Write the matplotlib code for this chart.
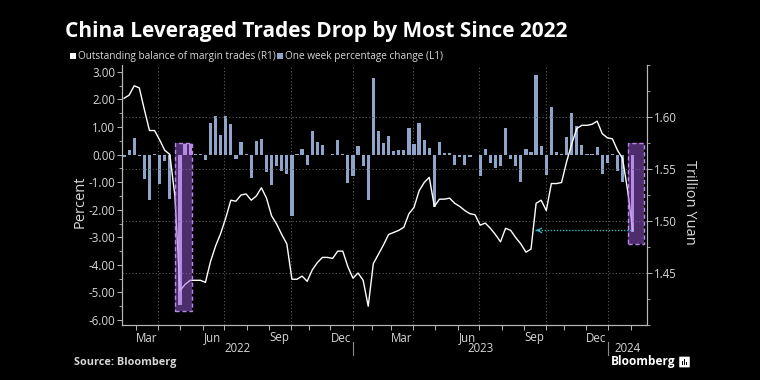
import numpy as np
import pandas as pd
import matplotlib
matplotlib.use("Agg")
import matplotlib.pyplot as plt
import matplotlib.ticker as mticker
import matplotlib.transforms as mtransforms
from matplotlib.patches import Rectangle, FancyBboxPatch

# ---------------- data ----------------
holiday_weeks = ["2022-10-07", "2023-01-27", "2023-10-06"]   # market closed all week
weeks = pd.date_range("2022-02-11", "2024-02-02", freq="W-FRI")
weeks = weeks[~weeks.isin(pd.to_datetime(holiday_weeks))]

pct_change = [
    -0.10, 0.15, 0.60, -0.05, -0.90, -1.65, 0.02, -1.05, -0.22, -1.60,
    np.nan, -5.45, 0.38, 0.38, 0.02, 0.02, -0.18, 1.15, 1.40, 0.70,
    1.40, 1.10, -0.15, 0.45, 0.02, -0.85, 0.50, 0.56, -0.63, -1.10,
    -0.40, -0.60, -0.70, -2.24, 0.04, 0.20, -0.36, 0.85, 0.47, 0.36,
    -0.02, 0.02, 0.54, 0.02, -1.03, -0.79, 0.33, -0.40, -1.65, 2.77,
    0.87, 0.42, 0.69, 0.14, 0.16, 0.18, 0.96, 0.39, 1.15, 0.53,
    0.23, -1.89, 0.46, 0.07, 0.07, -0.37, -0.09, -0.37, -0.09, -0.02,
    -0.78, 0.19, -0.30, -0.49, -0.42, 0.95, -0.16, -0.43, -0.98, 0.20,
    0.10, 2.87, 0.33, -0.73, 1.73, 0.11, 0.02, 0.64, 1.50, 1.04,
    0.35, 0.04, 0.02, 0.27, -0.72, -0.32, 0.02, -0.60, -1.00, np.nan,
    -2.80,
]

margin_balance = [
    1.618, 1.621, 1.630, 1.628, 1.607, 1.587, 1.587, 1.578, 1.568, 1.564,
    1.524, 1.433, 1.439, 1.443, 1.443, 1.443, 1.441, 1.461, 1.476, 1.488,
    1.503, 1.520, 1.519, 1.525, 1.526, 1.520, 1.524, 1.532, 1.522, 1.505,
    1.497, 1.487, 1.478, 1.444, 1.444, 1.447, 1.442, 1.453, 1.460, 1.465,
    1.465, 1.464, 1.471, 1.471, 1.456, 1.445, 1.450, 1.443, 1.418, 1.459,
    1.468, 1.477, 1.487, 1.489, 1.491, 1.494, 1.507, 1.513, 1.529, 1.537,
    1.542, 1.514, 1.521, 1.521, 1.522, 1.517, 1.514, 1.510, 1.507, 1.506,
    1.496, 1.498, 1.493, 1.487, 1.480, 1.493, 1.491, 1.484, 1.478, 1.470,
    1.473, 1.517, 1.520, 1.510, 1.536, 1.536, 1.537, 1.557, 1.574, 1.589,
    1.592, 1.592, 1.593, 1.596, 1.584, 1.580, 1.579, 1.568, 1.560, 1.529,
    1.491,
]

highlight_weeks = [("2022-04-29", "2022-05-13"), ("2024-02-02", "2024-02-02")]
highlight_ylims = [(-5.66, 0.43), (-3.25, 0.43)]

month_labels = ["Mar", "Jun", "Sep", "Dec", "Mar", "Jun", "Sep", "Dec"]
month_label_dates = ["2022-03-16", "2022-06-15", "2022-09-15", "2022-12-15",
                     "2023-03-16", "2023-06-15", "2023-09-15", "2023-12-15"]
year_labels = ["2022", "2023", "2024"]

# ---------------- style ----------------
BG = "black"
BAR = "#8ea4c8"
TXT = "#d8d8d8"
AX = "#b8b8b8"
GRID = "#5c5c5c"
plt.rcParams["font.family"] = ["Open Sans", "DejaVu Sans"]

x = np.arange(len(weeks))
ref = (weeks + pd.Timedelta(days=2)).asi8


def date_pos(d):
    return float(np.interp(pd.Timestamp(d).value, ref, x))


fig = plt.figure(figsize=(7.6, 3.8), dpi=100, facecolor=BG)
ax = fig.add_axes([122 / 760, 55 / 380, 525 / 760, 260 / 380])
ax.set_facecolor(BG)

hl_idx = set()
for s, e in highlight_weeks:
    hl_idx.update(np.where((weeks >= pd.Timestamp(s)) & (weeks <= pd.Timestamp(e)))[0].tolist())
colors = ["#d2bdf2" if i in hl_idx else BAR for i in x]
ax.bar(x, np.nan_to_num(pct_change), width=0.63, color=colors, linewidth=0, zorder=2)

ax.set_xlim(-0.4, 102.8)
ax.set_ylim(-6.18, 3.25)

ax2 = ax.twinx()
ax2.plot(x, margin_balance, color="white", lw=1.0, zorder=3)
ax2.set_ylim(1.40, 1.65)

# spines
for a in (ax, ax2):
    a.spines["top"].set_visible(False)
    for s in ("left", "right", "bottom"):
        a.spines[s].set_color(AX)
        a.spines[s].set_linewidth(0.8)

# left axis ticks
ax.yaxis.set_major_locator(mticker.FixedLocator(np.arange(-6, 4)))
ax.yaxis.set_minor_locator(mticker.MultipleLocator(0.5))
ax.yaxis.set_major_formatter(mticker.FormatStrFormatter("%.2f"))
ax.tick_params(axis="y", which="major", colors=AX, labelcolor=TXT, labelsize=8.3, length=3.5, width=0.7, pad=1.5)
ax.tick_params(axis="y", which="minor", colors=AX, length=2, width=0.6)

# right axis ticks
ax2.yaxis.set_major_locator(mticker.FixedLocator([1.45, 1.50, 1.55, 1.60]))
ax2.yaxis.set_minor_locator(mticker.FixedLocator(np.arange(1.40, 1.651, 0.025)))
ax2.yaxis.set_major_formatter(mticker.FormatStrFormatter("%.2f"))
ax2.tick_params(axis="y", which="major", colors=AX, labelcolor=TXT, labelsize=8.3, length=3.5, width=0.7, pad=1.5)
ax2.tick_params(axis="y", which="minor", colors=AX, length=2, width=0.6)
ax2.yaxis.grid(True, which="major", linestyle=(0, (1, 2)), color=GRID, linewidth=0.8)

# x axis: quarter gridlines, month ticks
quarter_starts = pd.date_range("2022-04-01", "2024-01-01", freq="QS")
month_starts = pd.date_range("2022-03-01", "2024-02-01", freq="MS")
ax.set_xticks([date_pos(d) for d in quarter_starts])
ax.set_xticks([date_pos(d) for d in month_starts], minor=True)
ax.xaxis.set_major_formatter(mticker.NullFormatter())
ax.tick_params(axis="x", which="both", colors=AX, length=3.5, width=0.7)
ax.xaxis.grid(True, which="major", linestyle=(0, (1, 2)), color=GRID, linewidth=0.8)

trans = mtransforms.blended_transform_factory(ax.transData, ax.transAxes)
for lab, d in zip(month_labels, month_label_dates):
    ax.text(date_pos(d), -0.025, lab, transform=trans, ha="center", va="top",
            fontsize=8.3, color=TXT)

year_bounds = [ax.get_xlim()[0], date_pos("2023-01-01"), date_pos("2024-01-01"), ax.get_xlim()[1]]
for k, lab in enumerate(year_labels):
    ax.text((year_bounds[k] + year_bounds[k + 1]) / 2, -0.092, lab, transform=trans,
            ha="center", va="center", fontsize=8.3, color=TXT)
for b in year_bounds[1:3]:
    ax.plot([b, b], [-0.065, -0.115], transform=trans, color="#8a8a8a", lw=0.8, clip_on=False)

# highlight boxes (overlay on top of line and bars)
for (s, e), (y0, y1) in zip(highlight_weeks, highlight_ylims):
    xs = date_pos(pd.Timestamp(s) + pd.Timedelta(days=2)) - 0.95
    xe = date_pos(pd.Timestamp(e) + pd.Timedelta(days=2)) + (0.37 if s != e else 2.3)
    ax2.add_patch(Rectangle((xs, y0), xe - xs, y1 - y0, transform=ax.transData,
                            facecolor="#9a5ad8", alpha=0.5, edgecolor="none", zorder=5, clip_on=False))
    ax2.add_patch(Rectangle((xs, y0), xe - xs, y1 - y0, transform=ax.transData,
                            facecolor="none", edgecolor="#b88be8", lw=1.0, linestyle=(0, (3, 2)),
                            zorder=6, clip_on=False))

# arrow from latest value back to the last time the balance was this low
last = margin_balance[-1]
mb = np.array(margin_balance)
k = np.where(mb[:-1] <= last)[0][-1]
x_cross = k + (last - mb[k]) / (mb[k + 1] - mb[k])
ax2.plot([x_cross + 0.4, x[-1]], [last, last], color="#3cb6c2", lw=1.0, linestyle=(0, (1, 1.2)), zorder=7)
ax2.annotate("", xy=(x_cross, last), xytext=(x_cross + 1.5, last),
             arrowprops=dict(arrowstyle="->", color="#3cb6c2", lw=0.9, mutation_scale=8), zorder=7)

# labels
fig.text(80 / 760, 1 - 202 / 380, "Percent", rotation=90, ha="center", va="center", fontsize=10.5, color=TXT)
fig.text(690 / 760, 1 - 202 / 380, "Trillion Yuan", rotation=270, ha="center", va="center", fontsize=10.5, color=TXT)

fig.text(65 / 760, 1 - 32 / 380, "China Leveraged Trades Drop by Most Since 2022",
         ha="left", va="center", fontsize=15, weight="bold", color="white")

# legend
lg_y = 1 - 56 / 380
fig.patches.append(Rectangle((70 / 760, lg_y - 3 / 380), 6 / 760, 6 / 380, transform=fig.transFigure,
                             facecolor="white", edgecolor="none"))
fig.text(78 / 760, lg_y, "Outstanding balance of margin trades (R1)", ha="left", va="center",
         fontsize=7.2, color=TXT)
fig.patches.append(Rectangle((277 / 760, lg_y - 3 / 380), 6 / 760, 6 / 380, transform=fig.transFigure,
                             facecolor=BAR, edgecolor="none"))
fig.text(285 / 760, lg_y, "One week percentage change (L1)", ha="left", va="center",
         fontsize=7.2, color=TXT)

fig.text(74 / 760, 1 - 362 / 380, "Source: Bloomberg", ha="left", va="center",
         fontsize=7.8, weight="bold", color=TXT)
fig.text(676 / 760, 1 - 362 / 380, "Bloomberg", ha="right", va="center",
         fontsize=8.6, weight="bold", color="white")
fig.patches.append(FancyBboxPatch((680 / 760, 1 - 367 / 380), 9 / 760, 10 / 380,
                                  boxstyle="round,pad=0.001", transform=fig.transFigure,
                                  facecolor="white", edgecolor="none"))
for j, hgt in enumerate([4, 6, 3]):
    fig.patches.append(Rectangle(((681.5 + j * 2.2) / 760, 1 - 365 / 380), 1.3 / 760, hgt / 380,
                                 transform=fig.transFigure, facecolor="black", edgecolor="none"))

fig.savefig("out.png", dpi=100, facecolor=BG)
